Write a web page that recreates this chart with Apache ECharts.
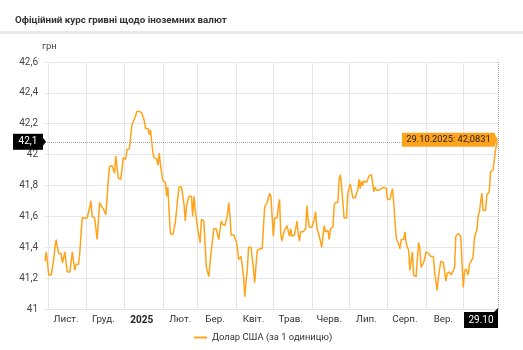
<!DOCTYPE html>
<html><head><meta charset="utf-8">
<script src="https://cdn.jsdelivr.net/npm/echarts@6/dist/echarts.min.js"></script>
<style>html,body{margin:0;padding:0;background:#fff}#c{width:523px;height:350px}</style>
</head><body><div id="c"></div>
<script>
const titleText = 'Офіційний курс гривні щодо іноземних валют';
const unitName = 'грн';
const seriesName = 'Долар США (за 1 одиницю)';
const startDate = [2024, 9, 29]; // 29.10.2024
const monthLabels = ['2025','Лют.','Бер.','Квіт.','Трав.','Черв.','Лип.','Серп.','Вер.','Жовт.','Лист.','Груд.'];
const yMin = 41, yMax = 42.6, yStep = 0.2;
const endLabel = '29.10';
const endFullDate = '29.10.2025';
const usdValues = [
41.31,41.37,41.30,41.22,41.22,41.22,41.22,41.32,41.40,41.45,
41.40,41.36,41.36,41.36,41.30,41.33,41.37,41.30,41.24,41.24,
41.24,41.30,41.37,41.31,41.25,41.29,41.29,41.29,41.36,41.48,
41.59,41.59,41.59,41.59,41.59,41.59,41.66,41.70,41.60,41.59,
41.59,41.52,41.45,41.57,41.69,41.67,41.66,41.65,41.65,41.61,
41.72,41.84,41.92,41.93,41.93,41.93,41.88,41.99,41.98,41.85,
41.84,41.84,41.90,41.98,41.97,41.97,42.03,42.04,42.04,42.04,
42.19,42.21,42.22,42.25,42.28,42.28,42.28,42.27,42.27,42.26,
42.22,42.17,42.17,42.17,42.13,42.16,42.08,42.01,41.98,41.97,
41.97,41.93,42.01,41.94,41.88,41.83,41.82,41.82,41.73,41.79,
41.63,41.49,41.48,41.48,41.48,41.56,41.64,41.72,41.79,41.79,
41.79,41.79,41.68,41.57,41.66,41.70,41.73,41.73,41.73,41.60,
41.73,41.65,41.58,41.52,41.51,41.43,41.58,41.57,41.57,41.42,
41.27,41.27,41.21,41.30,41.38,41.45,41.52,41.52,41.52,41.52,
41.45,41.51,41.57,41.55,41.54,41.54,41.53,41.61,41.69,41.61,
41.48,41.48,41.48,41.48,41.44,41.40,41.32,41.33,41.34,41.34,
41.21,41.08,41.18,41.25,41.40,41.40,41.40,41.40,41.26,41.17,
41.28,41.38,41.38,41.39,41.39,41.39,41.53,41.66,41.67,41.69,
41.69,41.75,41.73,41.73,41.47,41.59,41.59,41.59,41.66,41.71,
41.48,41.44,41.48,41.51,41.51,41.54,41.54,41.47,41.52,41.47,
41.46,41.48,41.52,41.57,41.49,41.44,41.50,41.50,41.50,41.51,
41.52,41.67,41.58,41.53,41.53,41.53,41.53,41.58,41.63,41.53,
41.50,41.47,41.47,41.40,41.47,41.54,41.50,41.51,41.51,41.45,
41.52,41.53,41.53,41.67,41.69,41.69,41.69,41.84,41.87,41.79,
41.69,41.59,41.59,41.59,41.75,41.78,41.81,41.80,41.72,41.72,
41.72,41.75,41.77,41.84,41.78,41.83,41.80,41.83,41.82,41.82,
41.81,41.86,41.87,41.87,41.86,41.76,41.79,41.77,41.77,41.77,
41.78,41.78,41.79,41.79,41.78,41.78,41.71,41.71,41.71,41.75,
41.78,41.69,41.57,41.46,41.45,41.42,41.39,41.45,41.45,41.45,
41.50,41.43,41.40,41.38,41.25,41.31,41.37,41.22,41.22,41.21,
41.32,41.43,41.40,41.27,41.26,41.30,41.33,41.37,41.36,41.36,
41.36,41.34,41.33,41.34,41.23,41.24,41.12,41.21,41.26,41.31,
41.31,41.30,41.30,41.18,41.23,41.24,41.24,41.22,41.21,41.25,
41.27,41.47,41.48,41.49,41.48,41.47,41.30,41.14,41.24,41.26,
41.27,41.22,41.29,41.30,41.32,41.34,41.46,41.49,41.51,41.60,
41.63,41.63,41.75,41.64,41.64,41.64,41.74,41.75,41.76,41.89,
41.90,41.90,41.90,42.03,42.07,42.0831
];

const categories = [];
(function(){
  const d = new Date(Date.UTC(startDate[0], startDate[1], startDate[2]));
  for (let i = 0; i < usdValues.length; i++) {
    const y = d.getUTCFullYear(), m = String(d.getUTCMonth()+1).padStart(2,'0'), dd = String(d.getUTCDate()).padStart(2,'0');
    categories.push(y + '-' + m + '-' + dd);
    d.setUTCDate(d.getUTCDate()+1);
  }
})();

const lastIdx = usdValues.length - 1;
const lastVal = usdValues[lastIdx];
const fmt = v => String(Number(v.toFixed(4))).replace('.', ',');
const FONT = 'Roboto, "Noto Sans", sans-serif';

const chart = echarts.init(document.getElementById('c'), null, {renderer: 'canvas'});
chart.setOption({
  animation: false,
  backgroundColor: '#fff',
  textStyle: {fontFamily: FONT},
  title: {
    text: titleText, left: 10, top: 11,
    textStyle: {fontSize: 9.8, fontWeight: 'bold', color: '#333', fontFamily: FONT}
  },
  legend: {
    bottom: 3, left: 189,
    itemWidth: 13, itemHeight: 2, itemGap: 4,
    icon: 'rect',
    textStyle: {fontSize: 9.4, color: '#333', fontFamily: FONT},
    data: [seriesName]
  },
  grid: {left: 45, right: 25, top: 62, bottom: 41, containLabel: false},
  xAxis: {
    type: 'category', data: categories, boundaryGap: false,
    axisLine: {show: true, lineStyle: {color: '#e3e3e3'}},
    axisTick: {show: false, interval: (i, v) => v.slice(8,10) === '01'},
    splitLine: {show: true, interval: (i, v) => v.slice(8,10) === '01', lineStyle: {color: '#e6e6e6'}},
    axisLabel: {
      interval: (i, v) => v.slice(8,10) === '15',
      margin: 6, fontSize: 9.8, color: '#333', fontFamily: FONT,
      formatter: v => {
        const m = Number(v.slice(5,7)) - 1;
        return m === 0 ? '{b|' + v.slice(0,4) + '}' : monthLabels[m];
      },
      rich: {b: {fontWeight: 'bold', fontSize: 10, color: '#222', fontFamily: FONT}}
    }
  },
  yAxis: {
    type: 'value', min: yMin, max: yMax, interval: yStep,
    name: unitName, nameLocation: 'end', nameGap: 10,
    nameTextStyle: {align: 'left', padding: [0, 0, 0, -3], fontSize: 9.5, color: '#444', fontFamily: FONT},
    axisLine: {show: false}, axisTick: {show: false},
    splitLine: {lineStyle: {color: '#e6e6e6'}},
    axisLabel: {margin: 7, fontSize: 10, color: '#444', fontFamily: FONT,
      formatter: v => String(Number(v.toFixed(1))).replace('.', ',')}
  },
  series: [{
    name: seriesName, type: 'line', data: usdValues,
    showSymbol: false, symbol: 'none',
    lineStyle: {color: '#FFA31A', width: 1.5},
    itemStyle: {color: '#FFA31A'},
    markLine: {
      silent: true, symbol: ['none', 'none'],
      lineStyle: {type: 'dotted', color: '#a8a8a8', width: 1},
      label: {show: false},
      data: [{yAxis: lastVal}, {xAxis: categories[lastIdx]}]
    }
  }]
});

const p = chart.convertToPixel({seriesIndex: 0}, [lastIdx, lastVal]);
const left = chart.convertToPixel({seriesIndex: 0}, [0, lastVal])[0];
const bottom = chart.convertToPixel({seriesIndex: 0}, [lastIdx, yMin])[1];
const px = p[0], py = p[1];

chart.setOption({
  graphic: [
    {type: 'rect', left: 0, top: 31, shape: {width: 523, height: 3}, style: {fill: '#e9e9e9'}, silent: true},
    {type: 'rect', shape: {x: left - 32, y: py - 8, width: 30, height: 16}, style: {fill: '#000'}, z: 100},
    {type: 'polygon', shape: {points: [[left - 2, py - 4], [left + 1, py], [left - 2, py + 4]]}, style: {fill: '#000'}, z: 100},
    {type: 'text', x: left - 17, y: py, style: {text: lastVal.toFixed(1).replace('.', ','), fill: '#fff', font: '10px ' + FONT, align: 'center', verticalAlign: 'middle'}, z: 101},
    {type: 'rect', shape: {x: px - 34, y: bottom + 3, width: 34, height: 16}, style: {fill: '#000'}, z: 100},
    {type: 'polygon', shape: {points: [[px - 4, bottom + 3], [px, bottom - 1], [px, bottom + 3]]}, style: {fill: '#000'}, z: 100},
    {type: 'text', x: px - 17, y: bottom + 11, style: {text: endLabel, fill: '#fff', font: '10px ' + FONT, align: 'center', verticalAlign: 'middle'}, z: 101},
    {type: 'rect', shape: {x: px - 96, y: py - 9, width: 93, height: 14}, style: {fill: '#FFA31A'}, z: 100},
    {type: 'polygon', shape: {points: [[px - 3, py - 7], [px, py - 2], [px - 3, py + 3]]}, style: {fill: '#FFA31A'}, z: 100},
    {type: 'text', x: px - 49.5, y: py - 2, style: {text: endFullDate + ': ' + fmt(lastVal), fill: '#222', font: '9.3px ' + FONT, align: 'center', verticalAlign: 'middle'}, z: 101}
  ]
});
</script></body></html>
